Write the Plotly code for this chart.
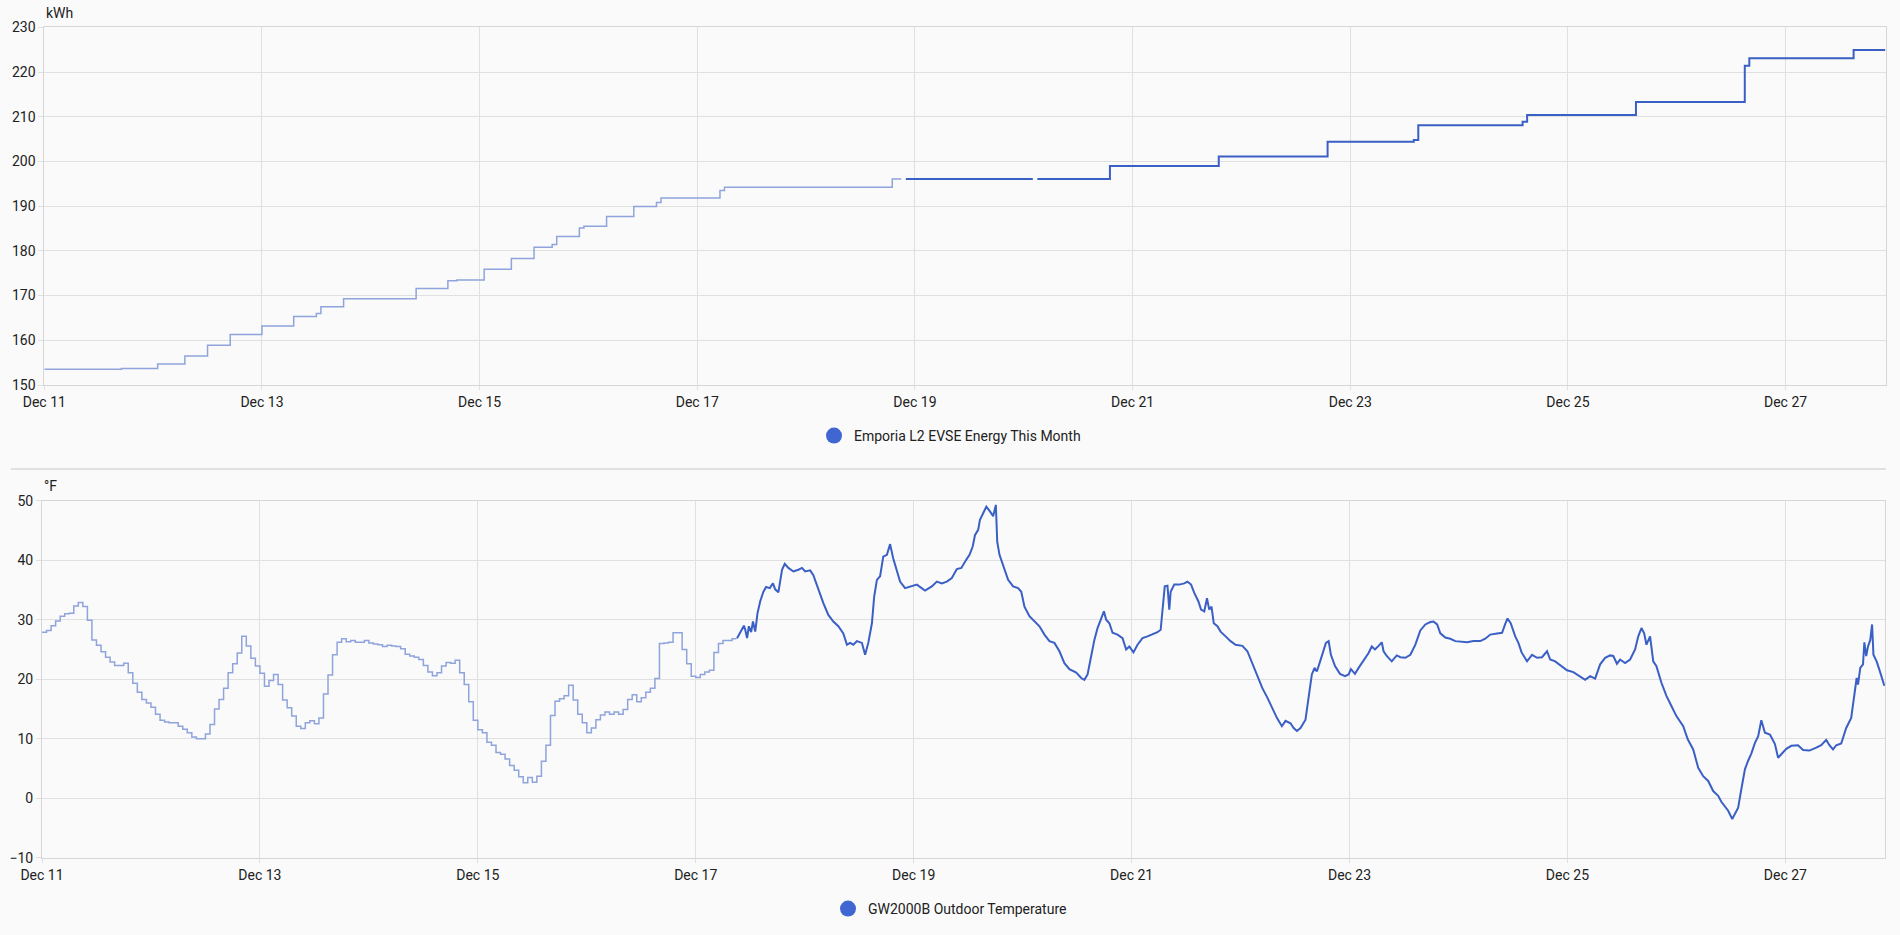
import pandas as pd
import plotly.graph_objects as go

# --- energy (kWh), step line: long-term statistics then live history ---
energy_stat_times = [
    "2023-12-11 00:00", "2023-12-11 17:00", "2023-12-12 01:00", "2023-12-12 07:00",
    "2023-12-12 12:00", "2023-12-12 17:00", "2023-12-13 00:00", "2023-12-13 07:00",
    "2023-12-13 12:00", "2023-12-13 13:00", "2023-12-13 18:00", "2023-12-14 10:00",
    "2023-12-14 17:00", "2023-12-14 19:00", "2023-12-15 01:00", "2023-12-15 07:00",
    "2023-12-15 12:00", "2023-12-15 16:00", "2023-12-15 17:00", "2023-12-15 22:00",
    "2023-12-15 23:00", "2023-12-16 04:00", "2023-12-16 10:00", "2023-12-16 15:00",
    "2023-12-16 16:00", "2023-12-17 05:00", "2023-12-17 06:00", "2023-12-18 19:00",
    "2023-12-18 21:00",
]
energy_stat_kwh = [
    153.5, 153.7, 154.7, 156.5, 158.9, 161.3, 163.2, 165.3, 166.0, 167.5,
    169.3, 171.6, 173.3, 173.5, 175.9, 178.3, 180.8, 181.4, 183.2, 185.1,
    185.5, 187.7, 189.9, 190.8, 191.8, 193.5, 194.2, 196.1, 196.1,
]
energy_live_times = [
    "2023-12-18 22:00", "2023-12-20 02:00", "2023-12-20 02:30", "2023-12-20 03:00",
    "2023-12-20 19:00", "2023-12-21 19:00", "2023-12-22 19:00", "2023-12-23 14:00",
    "2023-12-23 15:00", "2023-12-24 14:00", "2023-12-24 15:00", "2023-12-25 15:00",
    "2023-12-26 15:00", "2023-12-26 16:00", "2023-12-27 15:00", "2023-12-27 22:00",
]
energy_live_kwh = [
    196.1, 196.1, None, 196.1, 199.0, 201.1, 204.4, 204.8,
    208.1, 208.9, 210.4, 213.3, 221.4, 223.1, 224.9, 224.9,
]

# --- outdoor temperature (°F): hourly statistics from Dec 11 00:00 ---
temp_stat_f = [
    27.9, 28.2, 29.0, 29.8, 30.6, 31.0, 31.1, 32.3, 32.9, 32.2,
    29.9, 26.6, 25.7, 24.6, 23.7, 22.9, 22.3, 22.3, 22.7, 21.1,
    19.3, 17.8, 16.6, 16.0, 15.3, 14.1, 13.1, 12.8, 12.7, 12.7,
    12.1, 11.6, 11.0, 10.3, 10.0, 10.0, 10.8, 12.4, 15.0, 16.6,
    18.5, 21.1, 22.6, 24.4, 27.2, 25.6, 23.5, 22.2, 21.0, 18.8,
    19.8, 20.8, 19.1, 16.5, 15.2, 13.8, 12.1, 11.7, 12.7, 13.0,
    12.5, 13.5, 17.5, 20.7, 24.1, 26.2, 26.8, 26.3, 26.5, 26.2,
    26.2, 26.5, 26.1, 25.9, 25.8, 25.5, 25.7, 25.6, 25.5, 25.1,
    24.2, 23.9, 23.7, 23.3, 22.3, 21.2, 20.6, 21.1, 22.2, 22.8,
    22.7, 23.2, 21.1, 19.1, 16.2, 13.1, 11.5, 11.0, 9.4, 8.9,
    7.7, 7.4, 6.6, 5.5, 4.7, 3.6, 2.6, 3.5, 2.7, 3.7,
    6.2, 8.9, 13.9, 16.3, 16.7, 17.2, 19.0, 16.5, 14.1, 12.7,
    11.0, 11.8, 13.2, 14.0, 14.5, 14.1, 14.5, 14.1, 14.9, 16.6,
    17.4, 16.2, 16.9, 17.8, 18.5, 20.1, 26.0, 26.1, 26.2, 27.8,
    27.8, 25.0, 22.6, 20.5, 20.3, 20.8, 21.2, 21.5, 24.5, 26.0,
    26.5, 26.5, 26.8,
]

# live history: hours after Dec 17 00:00
temp_live_hours = [
    9.1, 9.7, 10.6, 10.9, 11.3, 11.7, 12.2, 12.6, 13.1, 13.6, 14.2, 14.9, 15.5, 16.3,
    17.0, 17.5, 18.2, 19.0, 19.6, 20.4, 21.5, 22.6, 23.4, 24.1, 25.2, 25.9, 27.0, 28.1,
    29.2, 30.3, 31.4, 32.5, 33.3, 34.0, 34.7, 35.5, 36.6, 37.3, 38.0, 38.8, 39.3, 39.9,
    40.6, 41.3, 42.1, 42.8, 43.5, 44.3, 45.0, 46.1, 47.2, 48.7, 50.5, 52.0, 53.1, 54.2,
    55.3, 56.4, 57.5,
    58.5, 59.6, 60.3, 61.0, 61.5, 62.2, 62.6, 63.3, 64.0, 64.8, 65.5, 66.1, 66.4, 66.9,
    67.7, 68.8, 69.9, 71.0, 71.7, 72.4, 73.5, 74.6, 75.7, 76.8, 77.9, 79.0, 80.1, 81.2,
    82.3, 83.8, 84.9, 85.6, 86.3, 87.1, 87.8, 88.5, 89.1, 89.9, 90.4, 91.1, 91.8, 92.9,
    94.0, 94.8, 95.5, 96.4, 97.3, 98.4, 99.5, 100.6, 101.7, 102.4, 102.8, 103.3, 103.9,
    104.3, 104.6, 105.4, 106.5, 107.6, 108.3, 109.1, 109.8, 110.7, 111.3, 112.0, 112.6,
    113.1, 113.6, 114.1, 114.9, 115.6, 116.7, 117.8, 118.9, 120.4, 121.5, 122.6, 123.7,
    124.8, 125.9, 127.0, 128.0, 129.1, 129.9, 131.0, 131.7, 132.4, 133.2, 134.3, 135.0,
    135.7, 136.3, 136.8, 137.4, 138.3, 138.8, 139.4, 139.9, 140.8, 141.9, 143.0, 143.8,
    144.3, 144.7, 145.2, 146.0, 147.1, 148.2, 148.9, 149.6, 150.4, 151.1, 151.5, 152.2,
    153.3, 154.4,
    155.2, 156.3, 157.4, 158.5, 159.6, 160.7, 161.8, 162.5, 163.3, 164.0, 165.1, 166.2,
    167.3, 168.4, 169.9, 171.3, 172.8, 173.9, 175.0, 176.5, 177.6, 178.3, 178.8, 179.5,
    180.5, 181.2, 181.9, 183.1, 184.2, 185.3, 186.4, 187.5, 188.2, 189.3, 190.4, 191.9,
    193.3, 194.8, 195.9, 197.0, 198.1, 199.2, 200.3, 201.4, 202.1, 202.9, 203.6, 204.7,
    205.8, 206.9, 207.6, 208.3, 208.9, 209.4, 210.2, 210.9, 211.6, 212.7, 213.8, 214.9,
    216.0, 217.5, 218.5, 219.7, 220.8, 221.9, 223.0, 224.1, 225.2, 225.9, 226.7, 227.4,
    228.3, 228.9, 229.6, 230.3, 231.1, 231.8, 232.5, 233.3, 234.0, 234.7, 235.5, 236.6,
    237.7, 238.4, 239.1, 240.2, 241.3, 242.8, 243.9, 245.3, 246.8, 247.9, 249.0, 249.7,
    250.5, 251.2, 252.3, 253.4, 254.5, 255.2, 255.7, 256.0, 256.5, 257.1, 257.4, 257.8,
    258.2, 258.7, 259.1, 259.4, 260.1, 260.7, 261.3, 261.8,
]
temp_live_f = [
    26.9, 27.8, 29.0, 28.3, 26.9, 28.9, 27.9, 29.7, 28.0, 31.1, 33.1, 34.7, 35.5, 35.3,
    36.1, 35.1, 34.6, 38.4, 39.4, 38.7, 38.1, 38.4, 38.7, 38.1, 38.3, 37.5, 35.0, 32.8,
    30.8, 29.7, 28.9, 27.7, 25.8, 26.1, 25.8, 26.4, 26.1, 24.1, 26.1, 29.4, 33.9, 36.7,
    37.3, 40.6, 40.9, 42.7, 40.3, 38.1, 36.4, 35.3, 35.6, 35.9, 34.9, 35.6, 36.4, 36.1,
    36.4, 37.0, 38.5,
    38.7, 40.1, 40.9, 42.3, 44.2, 45.1, 46.8, 47.9, 49.0, 48.2, 47.4, 49.3, 43.1, 40.9,
    39.2, 36.7, 35.6, 35.3, 34.7, 32.2, 30.6, 29.7, 28.9, 27.5, 26.4, 26.1, 24.7, 22.7,
    21.7, 21.1, 20.2, 19.9, 20.8, 23.9, 26.6, 28.6, 29.7, 31.4, 30.0, 29.4, 27.8, 27.5,
    26.9, 25.0, 25.5, 24.5, 25.8, 26.9, 27.2, 27.5, 27.9, 28.3, 31.7, 35.6, 35.7,
    31.7, 34.7, 35.9, 35.9, 36.1, 36.4, 35.9, 34.5, 33.1, 31.7, 31.4, 33.6,
    31.7, 32.2, 29.4, 28.9, 28.0, 27.2, 26.4, 25.8, 25.6, 24.7, 22.7, 20.5,
    18.5, 16.9, 15.2, 13.5, 12.1, 13.0, 12.6, 11.8, 11.3, 11.8, 13.2, 17.2,
    20.8, 21.9, 21.3, 22.7, 25.0, 26.1, 26.4, 24.1, 22.2, 20.9, 20.5, 20.8,
    21.7, 21.3, 20.9, 21.9, 23.2, 24.4, 25.5, 25.0, 25.6, 26.2, 24.7, 23.9,
    23.0, 24.0,
    23.7, 23.6, 24.1, 25.8, 28.2, 29.2, 29.6, 29.7, 29.2, 27.7, 27.0, 26.8,
    26.4, 26.3, 26.2, 26.4, 26.4, 26.8, 27.5, 27.7, 27.8, 29.3, 30.2, 29.4,
    27.2, 26.1, 24.5, 23.0, 24.1, 23.6, 23.7, 24.7, 23.3, 23.0, 22.3, 21.5,
    21.2, 20.4, 19.9, 20.5, 20.1, 22.5, 23.6, 24.0, 23.9, 22.6, 23.3, 22.7,
    23.3, 25.0, 27.2, 28.6, 27.7, 25.8, 27.2, 23.0, 22.2, 19.4, 17.2, 15.5,
    13.8, 12.1, 9.9, 8.2, 5.1, 3.7, 2.9, 1.2, 0.4, -0.6, -1.3, -2.1,
    -3.5, -2.7, -1.6, 1.5, 4.9, 6.3, 7.5, 9.3, 10.4, 13.1, 11.0, 10.7,
    9.1, 6.8, 7.4, 8.3, 8.8, 8.9, 8.1, 8.0, 8.5, 8.9, 9.8, 8.9,
    8.2, 8.9, 9.2, 11.8, 13.5, 17.2, 20.2, 19.1, 21.9, 22.5, 26.2, 23.9,
    25.5, 26.6, 29.2, 24.1, 23.0, 21.6, 19.9, 18.9,
]

DARK = "#3a5fc5"
LIGHT = "#8fa4dd"
DOT = "#4066d2"
GRID = "#e0e0e0"
FONT = dict(family="Roboto, sans-serif", size=14, color="#212121")

stat_start = pd.Timestamp("2023-12-11 00:00")
live_start = pd.Timestamp("2023-12-17 00:00")

temp_stat_x = pd.date_range(stat_start, periods=len(temp_stat_f) + 1, freq="h")
temp_stat_y = temp_stat_f + [temp_stat_f[-1]]
temp_live_x = live_start + pd.to_timedelta(temp_live_hours, unit="h")

fig = go.Figure()

# top chart: energy
fig.add_trace(go.Scatter(x=energy_stat_times, y=energy_stat_kwh, mode="lines",
                         line=dict(color=LIGHT, width=1.5, shape="hv"),
                         xaxis="x", yaxis="y", showlegend=False, hoverinfo="skip"))
fig.add_trace(go.Scatter(x=energy_live_times, y=energy_live_kwh, mode="lines",
                         line=dict(color=DARK, width=2, shape="hv"),
                         connectgaps=False,
                         xaxis="x", yaxis="y", showlegend=False))
fig.add_trace(go.Scatter(x=[None], y=[None], mode="markers",
                         marker=dict(color=DOT, size=17),
                         name="Emporia L2 EVSE Energy This Month",
                         xaxis="x", yaxis="y", legend="legend"))

# bottom chart: temperature
fig.add_trace(go.Scatter(x=temp_stat_x, y=temp_stat_y, mode="lines",
                         line=dict(color=LIGHT, width=1.5, shape="hv"),
                         xaxis="x2", yaxis="y2", showlegend=False, hoverinfo="skip"))
fig.add_trace(go.Scatter(x=temp_live_x, y=temp_live_f, mode="lines",
                         line=dict(color=DARK, width=2),
                         xaxis="x2", yaxis="y2", showlegend=False))
fig.add_trace(go.Scatter(x=[None], y=[None], mode="markers",
                         marker=dict(color=DOT, size=17),
                         name="GW2000B Outdoor Temperature",
                         xaxis="x2", yaxis="y2", legend="legend2"))

x_common = dict(type="date", range=["2023-12-11 00:00", "2023-12-27 22:02"],
                tick0="2023-12-11", dtick=2 * 86400000, tickformat="%b %d",
                showgrid=True, gridcolor=GRID, gridwidth=1,
                ticks="outside", ticklen=4, tickcolor=GRID,
                showline=True, linecolor="#d6d6d6", linewidth=1, mirror=True,
                zeroline=False, tickfont=FONT, automargin=False)
y_common = dict(showgrid=True, gridcolor=GRID, gridwidth=1,
                ticks="outside", ticklen=5, tickcolor=GRID,
                showline=True, linecolor="#d6d6d6", linewidth=1, mirror=True,
                zeroline=False, tickfont=FONT, automargin=False)

fig.update_layout(
    width=1900, height=935,
    margin=dict(l=0, r=0, t=0, b=0, autoexpand=False),
    paper_bgcolor="#fafafa", plot_bgcolor="#fafafa",
    font=FONT,
    xaxis=dict(domain=[44.3 / 1900, 1885.5 / 1900], anchor="y", **x_common),
    yaxis=dict(domain=[1 - 385 / 935, 1 - 27.3 / 935], anchor="x",
               range=[150, 230], dtick=10, **y_common),
    xaxis2=dict(domain=[42 / 1900, 1885.4 / 1900], anchor="y2", **x_common),
    yaxis2=dict(domain=[1 - 857.7 / 935, 1 - 500.7 / 935], anchor="x2",
                range=[-10, 50], dtick=10, **y_common),
    legend=dict(orientation="h", x=0.5, xanchor="center", y=1 - 436 / 935,
                yanchor="middle", bgcolor="rgba(0,0,0,0)", font=FONT, itemwidth=30),
    legend2=dict(orientation="h", x=0.5, xanchor="center", y=1 - 909 / 935,
                 yanchor="middle", bgcolor="rgba(0,0,0,0)", font=FONT, itemwidth=30),
    annotations=[
        dict(text="kWh", xref="paper", yref="paper", x=44 / 1900, y=1 - 13 / 935,
             xanchor="left", yanchor="middle", showarrow=False, font=FONT),
        dict(text="°F", xref="paper", yref="paper", x=42 / 1900, y=1 - 486 / 935,
             xanchor="left", yanchor="middle", showarrow=False, font=FONT),
    ],
    shapes=[
        dict(type="line", xref="paper", yref="paper",
             x0=11 / 1900, x1=1886 / 1900, y0=1 - 469 / 935, y1=1 - 469 / 935,
             line=dict(color="#e0e0e0", width=2)),
    ],
)

# the page body gets no margin so the 1900x935 figure fills the window exactly
fig.write_html(
    "out.html",
    config={"displayModeBar": False},
    post_script="document.body.style.margin='0';"
                "document.body.style.background='#fafafa';"
                "document.body.style.overflow='hidden';",
)
